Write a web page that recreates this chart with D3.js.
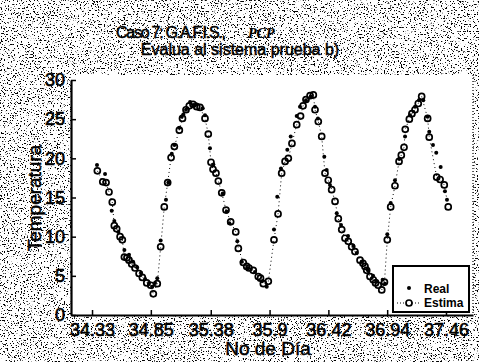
<!DOCTYPE html>
<html>
<head>
<meta charset="utf-8">
<script src="https://cdn.jsdelivr.net/npm/d3@7"></script>
<style>
  html, body { margin: 0; padding: 0; background: #fff; }
  svg { display: block; }
  .tick text { font-family: "Liberation Sans", Arial, sans-serif; }
</style>
</head>
<body>
<script>
// Measured temperature ("Real") over the day number
const realDay = [34.374, 34.445, 34.504, 34.527, 34.563, 34.616, 34.657, 34.693, 34.728, 34.763,
  34.799, 34.834, 34.861, 34.887, 34.907, 34.937, 34.984, 35.005, 35.035, 35.058,
  35.102, 35.123, 35.137, 35.161, 35.197, 35.226, 35.250, 35.309, 35.329, 35.373,
  35.403, 35.486, 35.521, 35.544, 35.615, 35.654, 35.709, 35.771, 35.833, 35.875,
  35.939, 35.968, 36.001, 36.057, 36.087, 36.140, 36.169, 36.222, 36.264, 36.302,
  36.328, 36.384, 36.405, 36.434, 36.494, 36.532, 36.594, 36.641, 36.671, 36.717,
  36.770, 36.815, 36.850, 36.900, 36.921, 36.941, 36.971, 37.009, 37.047, 37.098,
  37.142, 37.186, 37.221, 37.259, 37.298, 37.312, 37.345, 37.374, 37.413, 37.451, 37.469];
const realTemp = [19.15, 18.0, 13.3, 12.0, 10.6, 8.3, 7.7, 6.8, 6.1, 5.4,
  4.6, 4.1, 3.6, 4.1, 4.7, 9.5, 14.7, 16.9, 20.6, 21.7,
  23.9, 25.3, 25.6, 26.2, 27.2, 26.8, 26.9, 26.4, 25.5, 21.3,
  19.2, 15.5, 13.2, 11.7, 9.4, 6.8, 6.0, 5.5, 4.3, 3.6,
  10.9, 15.1, 18.7, 21.1, 22.8, 25.4, 26.6, 27.4, 27.9, 26.6,
  25.1, 20.2, 18.5, 16.6, 13.0, 11.5, 10.1, 8.8, 7.9, 6.8,
  5.7, 5.0, 4.3, 4.5, 4.0, 10.3, 14.3, 17.2, 19.9, 22.8,
  25.5, 26.6, 27.4, 27.4, 25.3, 23.4, 21.7, 20.7, 18.9, 15.8, 14.7];

// Model output ("Estima") over the day number
const estDay = [34.377, 34.425, 34.454, 34.480, 34.509, 34.527, 34.548, 34.578, 34.598, 34.616,
  34.639, 34.657, 34.681, 34.710, 34.746, 34.775, 34.814, 34.849, 34.872, 34.907,
  34.937, 34.969, 34.999, 35.029, 35.058, 35.102, 35.130, 35.161, 35.190, 35.223,
  35.256, 35.285, 35.329, 35.358, 35.382, 35.400, 35.426, 35.447, 35.477, 35.515,
  35.556, 35.601, 35.624, 35.668, 35.698, 35.718, 35.756, 35.800, 35.820, 35.845,
  35.889, 35.939, 35.975, 36.007, 36.037, 36.066, 36.098, 36.140, 36.174, 36.196,
  36.222, 36.258, 36.287, 36.302, 36.331, 36.361, 36.390, 36.419, 36.449, 36.479,
  36.508, 36.538, 36.567, 36.596, 36.626, 36.655, 36.700, 36.726, 36.744, 36.759,
  36.788, 36.817, 36.837, 36.861, 36.892, 36.916, 36.941, 36.971, 37.009, 37.045,
  37.065, 37.089, 37.100, 37.136, 37.159, 37.186, 37.215, 37.245, 37.298, 37.312,
  37.378, 37.408, 37.445, 37.480];
const estTemp = [18.4, 17.0, 16.9, 15.7, 14.4, 11.4, 11.0, 10.0, 9.6, 7.4,
  7.3, 7.0, 6.5, 6.0, 5.3, 4.8, 4.1, 3.8, 2.7, 4.0,
  8.7, 13.8, 16.9, 20.1, 21.5, 23.6, 25.1, 26.2, 26.7, 26.9,
  26.6, 26.5, 25.1, 23.1, 19.5, 18.6, 18.1, 17.1, 15.6, 13.4,
  11.9, 10.6, 8.5, 6.7, 6.2, 6.0, 5.7, 4.9, 4.7, 4.0,
  4.3, 9.6, 12.9, 18.1, 19.6, 20.0, 21.9, 24.3, 25.4, 26.7,
  27.5, 28.0, 28.1, 26.2, 24.7, 22.8, 18.1, 17.2, 16.0, 14.5,
  12.3, 10.9, 9.8, 9.4, 8.7, 8.1, 7.0, 6.6, 6.2, 5.7,
  4.9, 4.5, 4.1, 3.8, 3.2, 4.2, 9.6, 13.8, 16.5, 19.6,
  20.4, 21.4, 23.7, 25.0, 25.7, 26.2, 27.0, 27.9, 25.1, 22.7,
  17.6, 17.3, 16.6, 13.8];

const xTickValues = [34.33, 34.85, 35.38, 35.9, 36.42, 36.94, 37.46];
const yTickValues = [0, 5, 10, 15, 20, 25, 30];

const W = 479, H = 362;
const plot = { left: 71, right: 473, top: 80, bottom: 315 };
const SANS = "Liberation Sans, Arial, sans-serif";

const svg = d3.select("body").append("svg")
  .attr("width", W).attr("height", H)
  .attr("viewBox", `0 0 ${W} ${H}`);

// speckled paper texture around the axes (heavier along the top band)
const defs = svg.append("defs");
function grainFilter(id, offset) {
  const f = defs.append("filter").attr("id", id)
    .attr("filterUnits", "userSpaceOnUse")
    .attr("x", 0).attr("y", 0).attr("width", W).attr("height", H)
    .attr("color-interpolation-filters", "sRGB");
  f.append("feTurbulence").attr("type", "fractalNoise")
    .attr("baseFrequency", 0.7).attr("numOctaves", 2).attr("seed", 7);
  f.append("feColorMatrix").attr("type", "matrix")
    .attr("values", `0 0 0 0 0  0 0 0 0 0  0 0 0 0 0  -14 0 0 0 ${offset}`);
}
grainFilter("grainTop", 5.6);
grainFilter("grainRest", 5.25);

svg.append("rect").attr("width", W).attr("height", H).attr("fill", "#fff");
svg.append("rect").attr("width", W).attr("height", 75)
  .attr("fill", "#2a2a2a").attr("filter", "url(#grainTop)");
svg.append("rect").attr("y", 75).attr("width", W).attr("height", H - 75)
  .attr("fill", "#2a2a2a").attr("filter", "url(#grainRest)");

// white axes area
svg.append("rect")
  .attr("x", plot.left).attr("y", plot.top - 5)
  .attr("width", plot.right - plot.left).attr("height", plot.bottom - plot.top + 5)
  .attr("fill", "#fff");

svg.append("line")
  .attr("x1", plot.right).attr("x2", plot.right)
  .attr("y1", plot.top - 5).attr("y2", plot.bottom)
  .attr("stroke", "#333").attr("stroke-width", 1.5).attr("stroke-dasharray", "1 2");

const x = d3.scaleLinear().domain([34.144, 37.699]).range([plot.left, plot.right]);
const y = d3.scaleLinear().domain([0, 30]).range([plot.bottom, plot.top]);

const xAxis = svg.append("g")
  .attr("transform", `translate(0,${plot.bottom})`)
  .call(d3.axisBottom(x).tickValues(xTickValues).tickFormat(d => String(d))
    .tickSizeInner(-5).tickSizeOuter(0).tickPadding(8));
const yAxis = svg.append("g")
  .attr("transform", `translate(${plot.left},0)`)
  .call(d3.axisLeft(y).tickValues(yTickValues).tickFormat(d => String(d))
    .tickSizeInner(-5).tickSizeOuter(0).tickPadding(6));

[xAxis, yAxis].forEach(g => {
  g.select(".domain").attr("stroke", "#000").attr("stroke-width", 2.2);
  g.selectAll(".tick line").attr("stroke", "#000").attr("stroke-width", 1.5);
  g.selectAll(".tick text").attr("fill", "#000").attr("font-size", 18)
    .attr("stroke", "#000").attr("stroke-width", 0.6);
});

// dotted line joining the model estimates
const estPts = estDay.map((d, i) => [d, estTemp[i]]);
const realPts = realDay.map((d, i) => [d, realTemp[i]]);

svg.append("path")
  .datum(estPts)
  .attr("fill", "none").attr("stroke", "#000").attr("stroke-width", 1)
  .attr("stroke-dasharray", "1 3")
  .attr("d", d3.line().x(d => x(d[0])).y(d => y(d[1])));

svg.append("g").selectAll("circle").data(estPts).join("circle")
  .attr("cx", d => x(d[0])).attr("cy", d => y(d[1])).attr("r", 3)
  .attr("fill", "none").attr("stroke", "#000").attr("stroke-width", 1.7);

svg.append("g").selectAll("circle").data(realPts).join("circle")
  .attr("cx", d => x(d[0])).attr("cy", d => y(d[1])).attr("r", 2)
  .attr("fill", "#000");

// legend
const lg = svg.append("g").attr("transform", "translate(393,266)");
lg.append("rect").attr("width", 76).attr("height", 46)
  .attr("fill", "#fff").attr("stroke", "#000").attr("stroke-width", 2);
lg.append("circle").attr("cx", 16).attr("cy", 22).attr("r", 2).attr("fill", "#000");
lg.append("text").attr("x", 31).attr("y", 27).text("Real")
  .attr("font-family", SANS).attr("font-size", 12).attr("font-weight", "bold");
lg.append("line").attr("x1", 4).attr("x2", 27).attr("y1", 37).attr("y2", 37)
  .attr("stroke", "#000").attr("stroke-width", 1).attr("stroke-dasharray", "1 2");
lg.append("circle").attr("cx", 16).attr("cy", 37).attr("r", 3)
  .attr("fill", "#fff").attr("stroke", "#000").attr("stroke-width", 1.7);
lg.append("text").attr("x", 31).attr("y", 41).text("Estima")
  .attr("font-family", SANS).attr("font-size", 12).attr("font-weight", "bold");

// titles and axis labels
const t1 = svg.append("text").attr("y", 38)
  .attr("font-family", SANS).attr("font-size", 16)
  .attr("stroke", "#000").attr("stroke-width", 0.5);
t1.append("tspan").attr("x", 116)
  .attr("textLength", 110).attr("lengthAdjust", "spacing")
  .text("Caso 7: G.A.F.I.S.,");
t1.append("tspan").attr("x", 248)
  .attr("font-family", "Liberation Serif, Times New Roman, serif")
  .attr("font-style", "italic").attr("font-weight", "bold").attr("font-size", 14)
  .attr("stroke-width", 0.2)
  .text("PCP");

svg.append("text").attr("x", 240).attr("y", 55).attr("text-anchor", "middle")
  .attr("font-family", SANS).attr("font-size", 16)
  .attr("stroke", "#000").attr("stroke-width", 0.5)
  .text("Evalua al sistema prueba b)");

svg.append("text")
  .attr("transform", "translate(41,198) rotate(-90)")
  .attr("text-anchor", "middle")
  .attr("font-family", SANS).attr("font-size", 19)
  .attr("stroke", "#000").attr("stroke-width", 0.5)
  .text("Temperatura");

svg.append("text").attr("x", 268).attr("y", 355).attr("text-anchor", "middle")
  .attr("font-family", SANS).attr("font-size", 19)
  .attr("stroke", "#000").attr("stroke-width", 0.5)
  .text("No de Día");
</script>
</body>
</html>
